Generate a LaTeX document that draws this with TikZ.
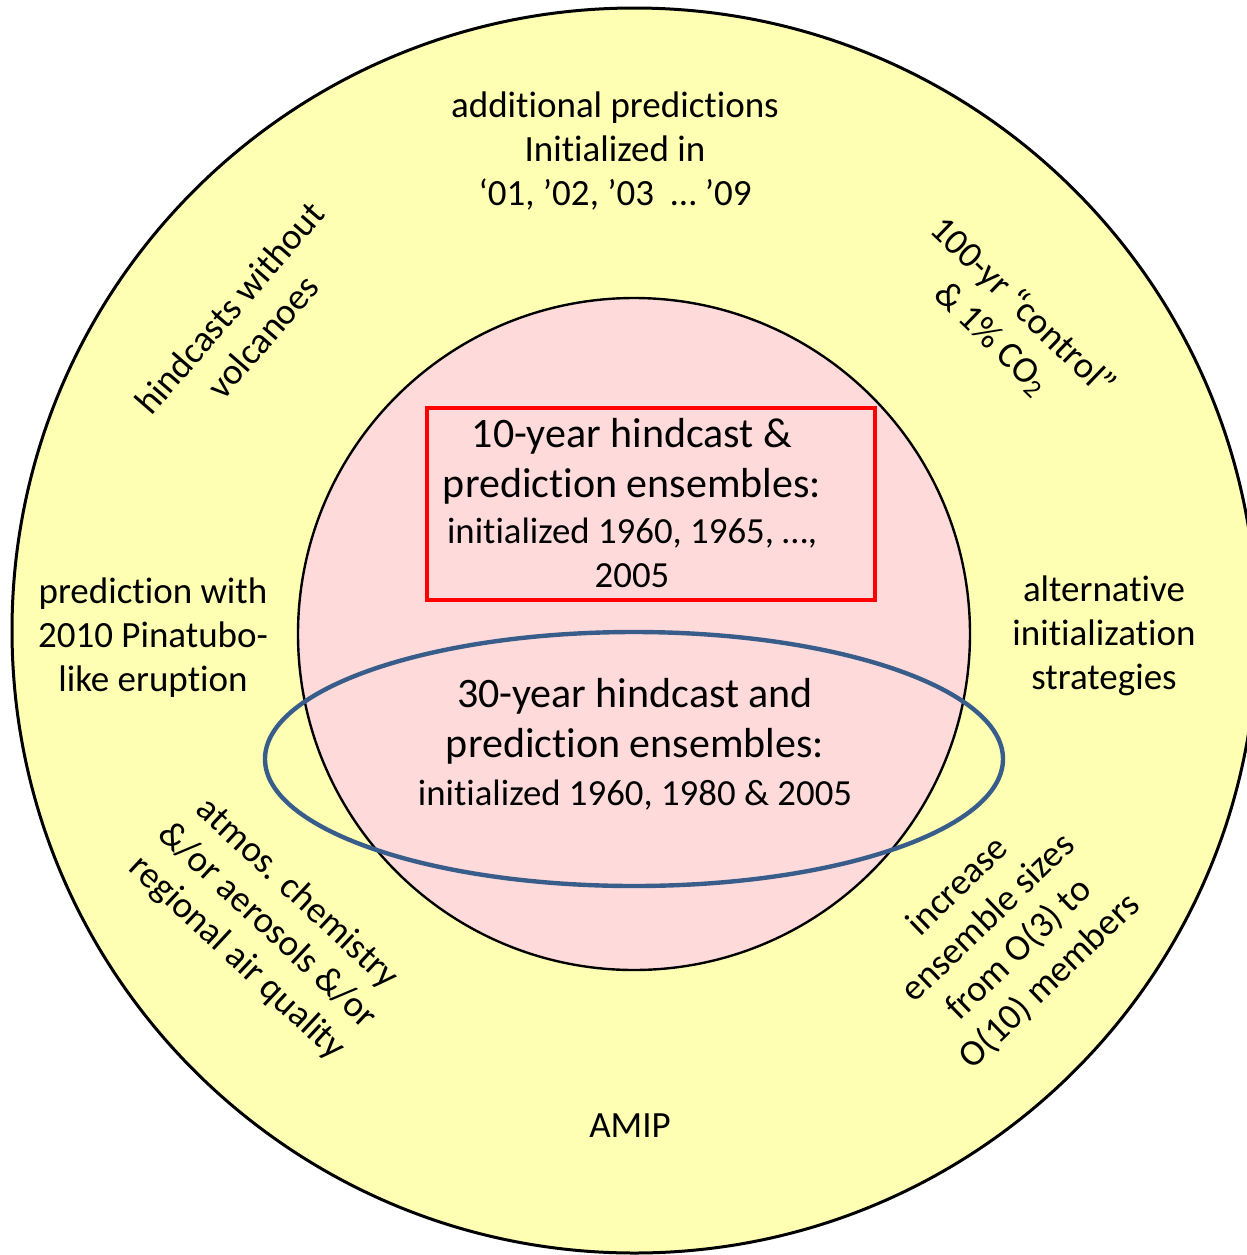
\documentclass[tikz,border=0pt]{standalone}
\usepackage{fontspec}
\setmainfont[Ligatures={NoCommon,NoRare,NoContextual}]{Carlito}
\usepackage{xcolor}
\usepackage{tikz}
\definecolor{ringyellow}{RGB}{255,255,180}
\definecolor{corepink}{RGB}{255,218,218}
\definecolor{ovalblue}{RGB}{56,93,138}

\begin{document}
\begin{tikzpicture}[x=0.5pt, y=-0.5pt, semithick]
\tikzstyle{ring text}=[align=center, inner sep=0pt,
                    font=\fontsize{18.5}{22}\selectfont]
\tikzstyle{core text}=[align=center, inner sep=0pt,
                    font=\fontsize{21}{25}\selectfont]
\newcommand{\subline}{\fontsize{18.4}{22.5}\selectfont}
  \useasboundingbox (0,0) rectangle (1247,1255);
  \clip (0,0) rectangle (1247,1255);
  % rings
  \filldraw[fill=ringyellow, line width=1.5pt] (634.5,630.5) circle [radius=622.5];
  \filldraw[fill=corepink, line width=1.2pt] (634,634) circle [radius=336];
  \draw[red, line width=2pt] (427,408) rectangle (875,600);
  \draw[ovalblue, line width=2.2pt] (634,759) ellipse [x radius=369, y radius=127];
  % outer ring labels
  \node[ring text] (addpred) at (615,151) {additional predictions\\Initialized in\\‘01, ’02, ’03~~… ’09};
  \node[ring text, rotate=49] (novolc) at (246,322) {hindcasts without\\volcanoes};
  \node[ring text, rotate=-44] (control) at (1007,323) {100-yr “control”\\\& 1\% CO\textsubscript{2}};
  \node[ring text] (pinatubo) at (153,638) {prediction with\\2010 Pinatubo-\\like eruption};
  \node[ring text] (altinit) at (1104,636) {alternative\\initialization\\strategies};
  \node[ring text, rotate=-43] (chem) at (267,926) {atmos. chemistry\\\&/or aerosols \&/or\\regional air quality};
  \node[ring text, rotate=44] (ensize) at (1004,934) {increase\\ensemble sizes\\from O(3) to\\O(10) members};
  \node[ring text] (amip) at (630,1126) {AMIP};
  % core labels
  \node[core text] (tenyr) at (632,503) {10-year hindcast \&\\prediction ensembles:\\[-2pt]{\subline initialized 1960, 1965, …,}\\[-3pt]{\subline 2005}};
  \node[core text] (thirtyyr) at (635,744) {30-year hindcast and\\prediction ensembles:\\[-1pt]{\subline initialized 1960, 1980 \& 2005}};
\end{tikzpicture}
\end{document}
